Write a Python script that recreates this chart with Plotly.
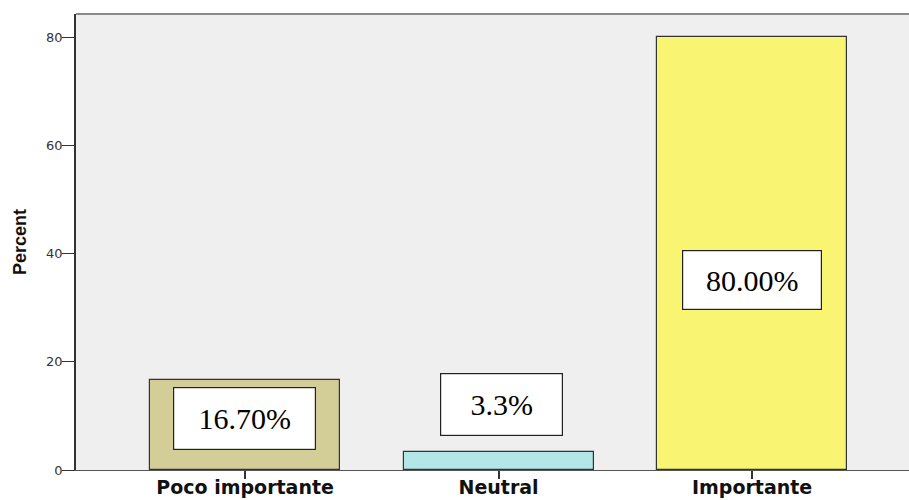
import plotly.graph_objects as go

# ---- data ----
categories = ["Poco importante", "Neutral", "Importante"]
percent = [16.7, 3.3, 80.0]
label_text = ["16.70%", "3.3%", "80.00%"]
y_ticks = [0, 20, 40, 60, 80]

# ---- styles / placement (not data) ----
bar_colors = ["#d3ce98", "#b3e6e6", "#f9f573"]
label_y = [9.5, 12.1, 35.1]          # where the boxed labels sit (data units)
label_xshift = [-1, 3, 0]
label_box_w = [141, 121, 138]
label_box_h = [61, 61, 58]

fig = go.Figure()
fig.add_trace(go.Bar(
    x=list(range(len(categories))),
    y=percent,
    width=0.75,
    marker=dict(color=bar_colors, line=dict(color="#333333", width=1.2)),
    hoverinfo="skip",
))

for i, (t, yy) in enumerate(zip(label_text, label_y)):
    fig.add_annotation(
        x=i, y=yy, xref="x", yref="y", text=t, showarrow=False,
        font=dict(family="Liberation Serif", size=30, color="#000000"),
        bgcolor="#ffffff", bordercolor="#222222", borderwidth=1.2, borderpad=0,
        width=label_box_w[i], height=label_box_h[i], xshift=label_xshift[i],
        align="center", valign="middle",
    )

# top border of the plot frame
fig.add_shape(type="line", xref="paper", yref="paper", x0=0, x1=1, y0=1, y1=1,
              line=dict(color="#8a8a8a", width=2))

fig.update_layout(
    width=909, height=500,
    margin=dict(l=76, r=0, t=14, b=30, pad=0),
    paper_bgcolor="#ffffff",
    plot_bgcolor="#efefef",
    showlegend=False,
    bargap=0,
    xaxis=dict(
        range=[-0.667, 2.619],
        tickmode="array",
        tickvals=list(range(len(categories))),
        ticktext=categories,
        ticks="outside", ticklen=8, tickcolor="#333333", tickwidth=1.5,
        ticklabelstandoff=-8,
        tickfont=dict(family="DejaVu Sans", size=19, color="#111111", weight="bold"),
        showline=True, linecolor="#555555", linewidth=1.2,
        showgrid=False, zeroline=False, fixedrange=True, automargin=False,
    ),
    yaxis=dict(
        range=[0, 84.25],
        tickmode="array",
        tickvals=y_ticks,
        ticktext=[str(v) for v in y_ticks],
        ticks="outside", ticklen=12, tickcolor="#333333", tickwidth=1.2,
        ticklabelstandoff=-3,
        tickfont=dict(family="DejaVu Sans", size=13, color="#333333"),
        showline=True, linecolor="#333333", linewidth=1.8,
        showgrid=False, zeroline=False, fixedrange=True, automargin=False,
        title=dict(text="Percent", standoff=15,
                   font=dict(family="Liberation Sans", size=18, color="#111111", weight="bold")),
    ),
)

fig.write_html(
    "out.html",
    config={"displayModeBar": False},
    post_script="document.body.style.margin='0';document.body.style.overflow='hidden';",
)
